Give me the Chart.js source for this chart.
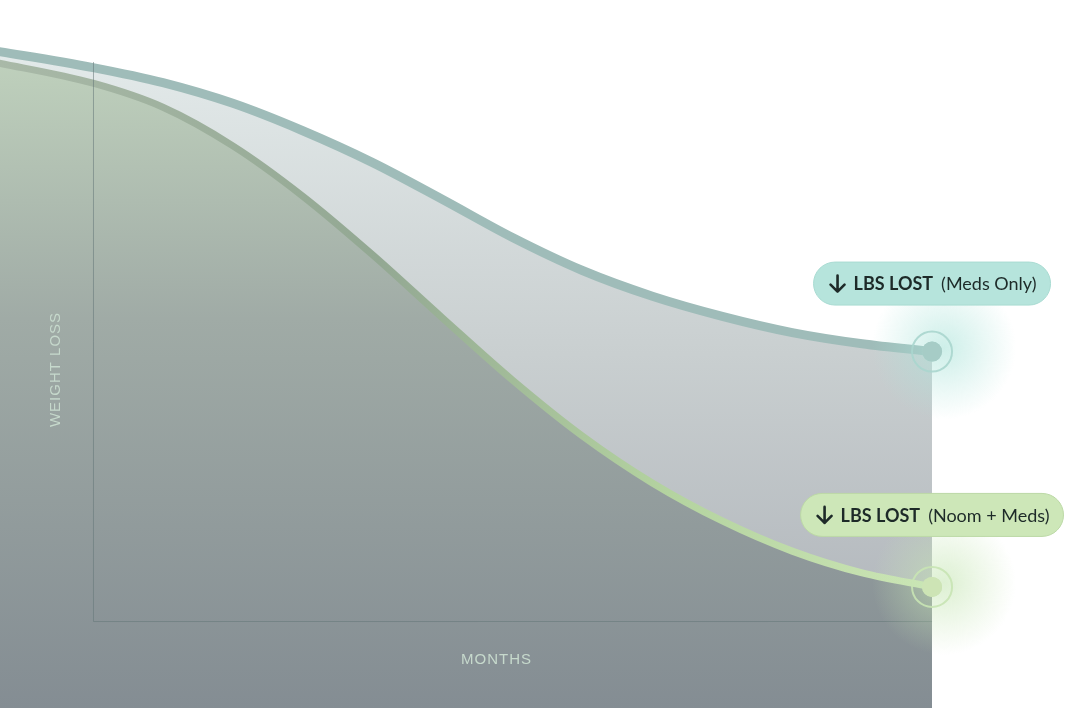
<!DOCTYPE html>
<html>
<head>
<meta charset="utf-8">
<title>Weight loss</title>
<script src="https://cdn.jsdelivr.net/npm/chart.js@4"></script>
<style>
  html, body { margin: 0; padding: 0; background: #ffffff; }
  #wrap { position: relative; width: 1080px; height: 708px; }
</style>
</head>
<body>
<div id="wrap"><canvas id="loss-chart"></canvas></div>
<script>
// months from start of treatment (first point sits just off the left edge)
const months = [-1.5, 0, 1, 2, 3, 4, 5, 6, 7, 8, 9, 10, 11, 12];
// relative body weight, 100 = top of the y axis, 0 = x axis
const medsOnly = [102.2, 99.0, 96.3, 92.6, 87.7, 82.0, 75.4, 68.6, 62.7, 58.1, 54.5, 51.6, 49.6, 48.2];
const noomMeds = [100.2, 96.2, 91.9, 85.0, 76.0, 65.5, 54.2, 43.1, 33.1, 24.7, 17.9, 12.5, 8.6, 6.1];
const seriesLabels = ["(Noom + Meds)", "(Meds Only)"];
const axisTitles = { x: "MONTHS", y: "WEIGHT LOSS" };

const lastIdx = months.length - 1;

function toPoints(values) {
  return months.map((m, i) => ({ x: m, y: values[i] }));
}

// only the final point of each line gets a dot
function endDot(radius) {
  return months.map((m, i) => (i === lastIdx ? radius : 0));
}

function vGradient(chart, stops) {
  const area = chart.chartArea;
  if (!area) return stops[0][1];
  const g = chart.ctx.createLinearGradient(0, area.top, 0, area.bottom);
  stops.forEach((s) => g.addColorStop(s[0], s[1]));
  return g;
}

function hGradient(chart, stops) {
  const area = chart.chartArea;
  if (!area) return stops[0][1];
  const g = chart.ctx.createLinearGradient(area.left, 0, area.right, 0);
  stops.forEach((s) => g.addColorStop(s[0], s[1]));
  return g;
}

// axis lines, axis titles, glows, rings and the two pills
const decorations = {
  id: "decorations",
  afterDatasetsDraw(chart) {
    const c = chart.ctx;
    const xs = chart.scales.x;
    const ys = chart.scales.y;
    const x0 = xs.getPixelForValue(0);
    const x1 = xs.getPixelForValue(12);
    const y0 = ys.getPixelForValue(0);
    const y1 = ys.getPixelForValue(100);

    // axes
    c.save();
    c.strokeStyle = "rgba(100, 118, 120, 0.55)";
    c.lineWidth = 1;
    c.beginPath();
    c.moveTo(x0 + 0.5, y1);
    c.lineTo(x0 + 0.5, y0 + 0.5);
    c.lineTo(x1, y0 + 0.5);
    c.stroke();

    // axis titles
    c.fillStyle = "#c6d9cc";
    c.font = "15px 'Liberation Sans', Arial, sans-serif";
    c.letterSpacing = "1px";
    c.textAlign = "center";
    c.textBaseline = "middle";
    c.fillText(axisTitles.x, (x0 + x1) / 2 - 16, 660);
    c.translate(56, (y0 + y1) / 2 + 28);
    c.rotate(-Math.PI / 2);
    c.fillText(axisTitles.y, 0, 0);
    c.restore();

    const looks = [
      { glow: "rgba(198, 230, 180, ", ring: "rgba(200, 228, 180, 0.9)", pill: "#cde7b8", edge: "#bcd9a6", lift: 72 },
      { glow: "rgba(172, 228, 218, ", ring: "rgba(170, 214, 206, 0.9)", pill: "#b6e4dc", edge: "#a9dbd2", lift: 68 },
    ];

    chart.data.datasets.forEach((ds, i) => {
      const pt = chart.getDatasetMeta(i).data[lastIdx];
      const look = looks[i];

      // soft glow round the end point
      const g = c.createRadialGradient(pt.x + 12, pt.y - 4, 0, pt.x + 12, pt.y - 4, 72);
      g.addColorStop(0, look.glow + "0.6)");
      g.addColorStop(1, look.glow + "0)");
      c.save();
      c.fillStyle = g;
      c.fillRect(pt.x - 70, pt.y - 80, 170, 160);

      // outer ring + dot
      c.strokeStyle = look.ring;
      c.lineWidth = 2;
      c.beginPath();
      c.arc(pt.x, pt.y, 20, 0, Math.PI * 2);
      c.stroke();
      c.fillStyle = ds.pointBackgroundColor;
      c.beginPath();
      c.arc(pt.x, pt.y, 10, 0, Math.PI * 2);
      c.fill();

      // pill label
      const bold = "bold 18px Lato, sans-serif";
      const reg = "18px Lato, sans-serif";
      c.font = bold;
      const wBold = c.measureText("LBS LOST").width;
      c.font = reg;
      const wReg = c.measureText(seriesLabels[i]).width;
      const arrowW = 16;
      const inner = arrowW + 8 + wBold + 8 + wReg;
      const w = inner + 30;
      const h = 43;
      const left = pt.x - w / 2;
      const cy = pt.y - look.lift;
      c.fillStyle = look.pill;
      c.strokeStyle = look.edge;
      c.lineWidth = 1;
      c.beginPath();
      c.roundRect(left, cy - h / 2, w, h, h / 2);
      c.fill();
      c.stroke();

      // arrow icon
      let tx = left + 16;
      c.strokeStyle = "#1d2a28";
      c.lineWidth = 2.6;
      c.lineCap = "round";
      c.lineJoin = "round";
      c.beginPath();
      c.moveTo(tx + 8, cy - 8);
      c.lineTo(tx + 8, cy + 8);
      c.moveTo(tx + 1, cy + 1);
      c.lineTo(tx + 8, cy + 8);
      c.lineTo(tx + 15, cy + 1);
      c.stroke();
      tx += arrowW + 8;

      c.fillStyle = "#1d2a28";
      c.textBaseline = "middle";
      c.textAlign = "left";
      c.font = bold;
      c.fillText("LBS LOST", tx, cy + 1);
      tx += wBold + 8;
      c.font = reg;
      c.fillText(seriesLabels[i], tx, cy + 1);
      c.restore();
    });
  },
};

document.addEventListener("DOMContentLoaded", () => {
  const ctx = document.getElementById("loss-chart").getContext("2d");
  new Chart(ctx, {
    type: "line",
    data: {
      datasets: [
        {
          label: "Noom + Meds",
          data: toPoints(noomMeds),
          fill: "start",
          backgroundColor: (context) =>
            vGradient(context.chart, [
              [0.07, "#c0d2bd"],
              [0.45, "#a0aba6"],
              [1, "#848d93"],
            ]),
          borderColor: (context) =>
            hGradient(context.chart, [
              [0, "#a9b9a8"],
              [0.35, "#93a893"],
              [0.62, "#b4d3a0"],
              [0.86, "#cbe5b5"],
            ]),
          borderWidth: 7,
          pointRadius: endDot(10),
          pointBackgroundColor: "#cde4b5",
          pointBorderWidth: 0,
          cubicInterpolationMode: "monotone",
        },
        {
          label: "Meds Only",
          data: toPoints(medsOnly),
          fill: "-1",
          backgroundColor: (context) =>
            vGradient(context.chart, [
              [0.07, "#e3eaea"],
              [0.5, "#c9cfd0"],
              [0.85, "#b4b9be"],
            ]),
          borderColor: "#9fbcb9",
          borderWidth: 9,
          pointRadius: endDot(10),
          pointBackgroundColor: "#a6ccc6",
          pointBorderWidth: 0,
          cubicInterpolationMode: "monotone",
        },
      ],
    },
    options: {
      responsive: true,
      maintainAspectRatio: false,
      animation: false,
      layout: { padding: 0, autoPadding: false },
      plugins: {
        legend: { display: false },
        tooltip: { enabled: false },
      },
      scales: {
        x: { type: "linear", display: false, min: -1.33, max: 14.116 },
        y: { type: "linear", display: false, min: -15.56, max: 111.09 },
      },
    },
    plugins: [decorations],
  });
});
</script>
</body>
</html>
